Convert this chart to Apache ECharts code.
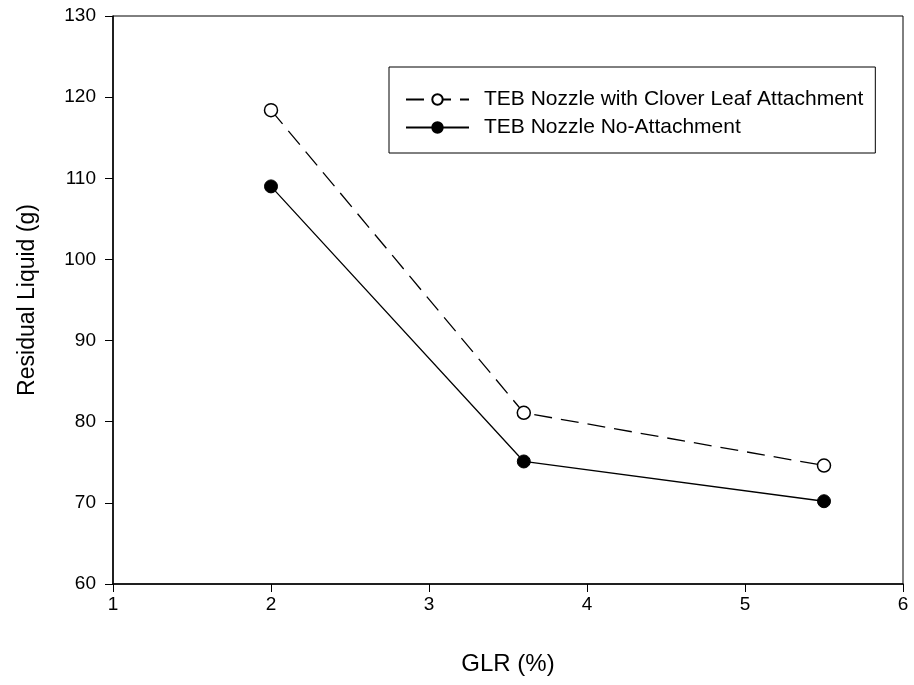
<!DOCTYPE html>
<html>
<head>
<meta charset="utf-8">
<script src="https://cdn.jsdelivr.net/npm/echarts@6/dist/echarts.min.js"></script>
<style>html,body{margin:0;padding:0;background:#fff}#c{width:914px;height:685px}</style>
</head>
<body>
<div id="c"></div>
<script>
const glr = [2, 3.6, 5.5];
const cloverLeaf = [118.4, 81.1, 74.6];
const noAttachment = [109.0, 75.1, 70.2];
const seriesNames = ['TEB Nozzle with Clover Leaf Attachment', 'TEB Nozzle No-Attachment'];
const xTitle = 'GLR (%)';
const yTitle = 'Residual Liquid (g)';

const font = 'Liberation Sans, Arial, sans-serif';
const chart = echarts.init(document.getElementById('c'));
chart.setOption({
  animation: false,
  backgroundColor: '#fff',
  grid: {left: 113, right: 11, top: 16, bottom: 101, show: true, borderColor: '#000', borderWidth: 1},
  legend: {
    orient: 'vertical', left: 389, top: 67,
    padding: [22, 12, 15, 16],
    borderColor: '#000', borderWidth: 1,
    itemWidth: 63, itemHeight: 13, itemGap: 7,
    textStyle: {fontFamily: font, fontSize: 21, color: '#000', padding: [0, 0, 0, 10]},
    data: seriesNames
  },
  xAxis: {
    type: 'value', min: 1, max: 6, interval: 1,
    name: xTitle, nameLocation: 'middle', nameGap: 68,
    nameTextStyle: {fontFamily: font, fontSize: 24, color: '#000'},
    axisLine: {lineStyle: {color: '#000', width: 1.5}},
    axisTick: {length: 8, lineStyle: {color: '#000'}},
    axisLabel: {fontFamily: font, fontSize: 19, color: '#000', margin: 11},
    splitLine: {show: false}
  },
  yAxis: {
    type: 'value', min: 60, max: 130, interval: 10,
    name: yTitle, nameLocation: 'middle', nameGap: 74,
    nameTextStyle: {fontFamily: font, fontSize: 23, color: '#000'},
    axisLine: {show: true, lineStyle: {color: '#000', width: 1.5}},
    axisTick: {show: true, length: 8, lineStyle: {color: '#000'}},
    axisLabel: {fontFamily: font, fontSize: 19, color: '#000', margin: 17},
    splitLine: {show: false}
  },
  series: [
    {
      name: seriesNames[0], type: 'line',
      data: glr.map((x, i) => [x, cloverLeaf[i]]),
      symbol: 'circle', symbolSize: 13,
      itemStyle: {color: '#fff', borderColor: '#000', borderWidth: 1.5},
      lineStyle: {color: '#000', width: 1.3, type: [18, 9]},
      z: 3
    },
    {
      name: seriesNames[1], type: 'line',
      data: glr.map((x, i) => [x, noAttachment[i]]),
      symbol: 'circle', symbolSize: 13,
      itemStyle: {color: '#000', borderColor: '#000', borderWidth: 1},
      lineStyle: {color: '#000', width: 1.3, type: 'solid'},
      z: 3
    }
  ]
});
</script>
</body>
</html>
